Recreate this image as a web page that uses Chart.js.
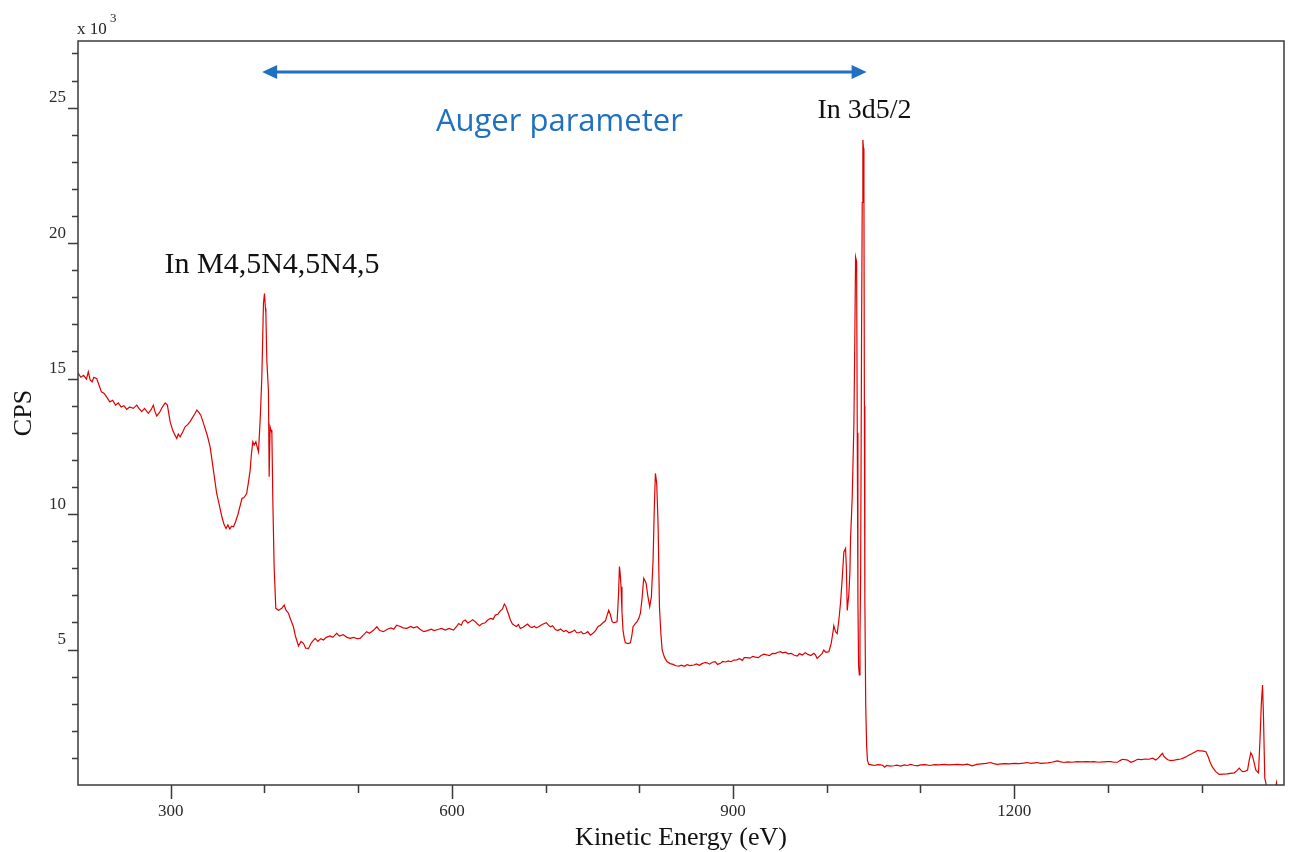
<!DOCTYPE html>
<html>
<head>
<meta charset="utf-8">
<script src="https://cdn.jsdelivr.net/npm/chart.js@4.4.1/dist/chart.umd.min.js"></script>
<style>
html,body{margin:0;padding:0;background:#fff;}
#wrap{width:1290px;height:852px;position:relative;}
</style>
</head>
<body>
<div id="wrap"><canvas id="c" width="1290" height="852"></canvas></div>
<script>
// Kinetic energy (eV)
const energy = [
201,204,207,210,212,214,216,218,221,223,226,229,232,235,238,241,244,247,250,253,256,260,263.7,266,269,272,276,279,281.4,283,285,288,291,294,296.4,299.3,302,304,306.4,308,310,313,315.3,318,320.6,323,326,327.8,330,332,334,336.6,339,342,345.5,349,352,354.5,357,359,361,363,365,367,369,372,374,376,378,381,383,384.7,386,387.6,389,390.8,392,393.6,395.4,397.2,398.9,400,401,401.5,402.5,404.2,405,406,407,407.9,408.9,410.3,412.1,415,418.5,421,423,425.6,428,430.9,433,436.3,439,441.6,444,447,450,454,457,460,463,466,470,473,477,480,484,488,491.5,495,499,502,506,509,512,516,520,523,527,531,535,538,541,545,548,552,556,559,563,566,570,574,578,581,585,589,593,597,
601.8,605,607.2,610,612,614.3,617,619.6,622,625,627,629.6,632,635.7,638,641,644,646.3,649,651.7,654,656,657.5,658.8,660.5,662.4,664.5,666.6,669,671,673,676,678,680.8,683,685.5,688,690,692.6,695,698,700.8,703,705.1,707.5,710.4,713,716,719.3,722,725,728.2,731,733,735.3,738,740,742.5,745,747.8,750.5,753.1,756,758.5,761,763.8,765.5,767.3,769,771,772.6,774.5,776.3,777.8,778.8,779.6,780.5,781.5,782.6,784,785.1,788,790.5,792,793.3,795.5,797.6,799.5,801.2,803,804.7,806,807.3,809,811.1,812.9,814.7,816,817.2,818.6,820.1,821.5,823,824.4,827,829.7,833,836,839,842.1,845,848,851,854,858.1,861,864,867,870,872.4,875,878,881,883.5,886.6,889,892,895,898,900.8,904,907,910,912,915,918,921,924,927,930,932.9,936,939,942,945,948,950.7,953,956,959,962,965,968.5,971,974,977,980,983,986.3,988,989.8,992,995,996.9,999,1002.3,1004.8,1006.5,1007.6,1009.4,1011.2,1013,1014.8,1016.5,1018.3,1020.1,1021,1021.9,1023.6,1024.8,1025.4,1027.2,1029,1030,1030.8,1031.9,1032.6,1033.3,1034,1034.8,1035.5,1036.2,1037.2,1037.9,1038.6,1039.2,1039.7,1040.2,1040.7,1041.6,1042.6,1043.5,1045,1048,1051,1054,1057.5,1060,1061.8,1064,1068,1071.7,1075,1079,1083,1086,1089.5,1093,1096.7,1100,1105,1110,1115,1120,1125,1130,1135,1140,1145,1150,1155.4,1160,1165,1170,1175,1178,1182,1186,1190,1195,1200,1205,1210,1214,1218,1222,1224.7,1228,1232,1236,1240,1243,1246,1249,1253,1257,1262,1267,1272,1277,1281,1285,1290,1295,1300,1303,1307,1310.3,1313,1315.6,1318,1321,1324.5,1328,1331.7,1336,1340,1344,1347.7,1351.2,1354,1356,1358.3,1360,1361.9,1364,1367.2,1371,1374,1377.9,1381,1384,1386.8,1390,1393,1395.7,1399,1402,1404.6,1407.1,1409,1411.8,1415,1418.8,1423,1427,1431,1434.9,1437.5,1440.2,1442,1443.8,1446,1449.1,1450.8,1452.6,1454,1455.5,1458,1460.8,1462.5,1463.8,1465.1,1466.1,1467.5,1468.6,1471,1478,1480,1481
];
// Intensity (CPS, x 10^3)
const cps = [
15.21,15.05,15.12,14.98,15.25,14.95,14.88,15.05,15.00,14.80,14.51,14.45,14.30,14.14,14.20,14.02,14.10,13.95,14.00,13.86,13.95,13.90,14.02,13.90,13.78,13.90,13.72,13.85,14.02,13.80,13.62,13.75,13.95,14.10,14.02,13.41,13.10,12.95,12.79,12.95,12.85,13.05,13.22,13.30,13.41,13.55,13.72,13.84,13.75,13.65,13.45,13.16,12.90,12.48,11.62,10.76,10.30,9.90,9.60,9.47,9.60,9.45,9.55,9.53,9.70,10.03,10.30,10.58,10.60,10.76,11.20,11.62,12.20,12.67,12.55,12.67,12.50,12.30,13.47,15.07,17.77,18.14,17.60,17.40,15.68,14.58,11.38,13.22,13.10,12.98,10.52,8.06,6.52,6.45,6.52,6.64,6.45,6.34,6.10,5.84,5.50,5.13,5.30,5.23,5.05,5.04,5.25,5.41,5.30,5.40,5.35,5.45,5.50,5.45,5.60,5.50,5.55,5.45,5.41,5.45,5.40,5.41,5.55,5.66,5.60,5.70,5.84,5.70,5.66,5.75,5.80,5.75,5.90,5.85,5.80,5.78,5.85,5.80,5.84,5.75,5.66,5.70,5.75,5.70,5.74,5.78,5.72,5.78,
5.72,5.85,5.96,5.90,6.05,6.09,5.98,6.03,6.10,6.03,5.95,5.88,5.95,5.99,6.08,6.15,6.12,6.27,6.30,6.43,6.50,6.68,6.60,6.46,6.30,6.09,5.95,5.90,5.85,5.92,5.78,5.82,5.88,5.94,5.85,5.81,5.86,5.80,5.84,5.90,5.95,5.99,5.90,5.84,5.88,5.74,5.70,5.76,5.66,5.70,5.62,5.66,5.72,5.62,5.62,5.66,5.58,5.60,5.66,5.53,5.60,5.69,5.85,5.90,5.98,6.06,6.25,6.45,6.30,6.03,5.99,6.00,6.03,7.00,8.06,7.80,7.32,6.40,5.72,5.40,5.25,5.22,5.25,5.50,5.84,5.95,6.03,6.15,6.34,6.90,7.63,7.55,7.44,7.00,6.58,6.95,8.30,10.20,11.50,11.13,9.53,6.58,5.60,4.98,4.70,4.55,4.48,4.45,4.40,4.39,4.42,4.38,4.44,4.41,4.43,4.47,4.42,4.48,4.52,4.51,4.46,4.53,4.55,4.45,4.49,4.56,4.54,4.58,4.55,4.61,4.62,4.66,4.60,4.70,4.70,4.68,4.75,4.72,4.70,4.78,4.83,4.80,4.78,4.86,4.85,4.90,4.92,4.88,4.90,4.84,4.86,4.80,4.76,4.85,4.80,4.88,4.82,4.78,4.86,4.80,4.67,4.75,4.85,4.98,4.90,4.92,5.23,5.60,5.88,5.66,5.59,6.10,6.75,7.60,8.60,8.73,8.00,6.44,7.03,7.90,9.07,10.59,13.30,16.50,19.49,19.32,13.00,6.86,4.40,4.06,5.50,7.71,16.69,21.50,23.81,23.50,22.20,14.00,6.86,3.00,1.44,0.90,0.76,0.74,0.72,0.75,0.74,0.72,0.66,0.72,0.70,0.71,0.73,0.70,0.74,0.72,0.76,0.73,0.71,0.74,0.75,0.72,0.75,0.74,0.76,0.74,0.75,0.76,0.74,0.77,0.71,0.76,0.78,0.80,0.83,0.79,0.76,0.78,0.79,0.78,0.80,0.79,0.81,0.83,0.80,0.82,0.83,0.80,0.81,0.82,0.84,0.86,0.89,0.86,0.83,0.85,0.84,0.86,0.85,0.86,0.85,0.86,0.84,0.85,0.86,0.86,0.84,0.84,0.90,0.95,0.94,0.92,0.84,0.88,0.95,0.94,0.96,0.95,0.99,0.92,1.00,1.08,1.17,1.05,0.99,0.93,0.90,0.92,0.94,0.96,1.00,1.05,1.11,1.16,1.22,1.27,1.26,1.25,1.23,1.04,0.85,0.65,0.50,0.39,0.40,0.41,0.43,0.45,0.52,0.62,0.55,0.49,0.50,0.55,0.90,1.19,1.10,0.92,0.55,0.45,1.78,3.00,3.69,2.52,0.25,0.08,-0.30,-0.30,0.08,-0.30
];
// Axis ticks
const xMajorTicks = [300, 600, 900, 1200];
const xMinorTicks = [300, 400, 500, 600, 700, 800, 900, 1000, 1100, 1200, 1300, 1400];
const yMajorTicks = [5, 10, 15, 20, 25];
const yMinorTicks = [1,2,3,4,5,6,7,8,9,10,11,12,13,14,15,16,17,18,19,20,21,22,23,24,25,26,27];

const points = energy.map((e, i) => ({x: e, y: cps[i]}));
const SERIF = '"Liberation Serif", "DejaVu Serif", serif';
const BLUE = '#1f70c1';

const decor = {
  id: 'decor',
  afterDraw(chart) {
    const {ctx, chartArea: a, scales: {x, y}} = chart;
    ctx.save();
    ctx.strokeStyle = '#3a3a3a';
    ctx.lineWidth = 1.5;
    ctx.strokeRect(a.left, a.top, a.right - a.left, a.bottom - a.top);
    ctx.beginPath();
    xMinorTicks.forEach(v => {
      const px = Math.round(x.getPixelForValue(v)) + 0.5;
      const len = xMajorTicks.includes(v) ? 14 : 8;
      ctx.moveTo(px, a.bottom); ctx.lineTo(px, a.bottom + len);
    });
    yMinorTicks.forEach(v => {
      const py = Math.round(y.getPixelForValue(v)) + 0.5;
      const len = yMajorTicks.includes(v) ? 10 : 6;
      ctx.moveTo(a.left, py); ctx.lineTo(a.left - len, py);
    });
    ctx.stroke();

    // x 10^3 multiplier
    ctx.fillStyle = '#222';
    ctx.textBaseline = 'alphabetic';
    ctx.textAlign = 'left';
    ctx.font = '17px ' + SERIF;
    ctx.fillText('x 10', a.left - 1, 34);
    ctx.font = '13px ' + SERIF;
    ctx.fillText('3', a.left + 32, 22);

    // peak labels
    ctx.textAlign = 'center';
    ctx.textBaseline = 'middle';
    ctx.fillStyle = '#111';
    ctx.font = '30px ' + SERIF;
    ctx.fillText('In M4,5N4,5N4,5', x.getPixelForValue(408), y.getPixelForValue(19.19));
    ctx.font = '28px ' + SERIF;
    ctx.fillText('In 3d5/2', x.getPixelForValue(1040.4), y.getPixelForValue(24.9));

    // Auger parameter arrow
    const x1 = x.getPixelForValue(397.5), x2 = x.getPixelForValue(1042.6);
    const ay = Math.round(y.getPixelForValue(26.3));
    ctx.strokeStyle = BLUE; ctx.fillStyle = BLUE;
    ctx.lineWidth = 3;
    ctx.beginPath(); ctx.moveTo(x1 + 10, ay); ctx.lineTo(x2 - 10, ay); ctx.stroke();
    ctx.beginPath(); ctx.moveTo(x1, ay); ctx.lineTo(x1 + 15, ay - 7); ctx.lineTo(x1 + 15, ay + 7); ctx.closePath(); ctx.fill();
    ctx.beginPath(); ctx.moveTo(x2, ay); ctx.lineTo(x2 - 15, ay - 7); ctx.lineTo(x2 - 15, ay + 7); ctx.closePath(); ctx.fill();
    ctx.font = '31px "Open Sans", "Liberation Sans", sans-serif';
    ctx.fillText('Auger parameter', x.getPixelForValue(714.7), y.getPixelForValue(24.46));
    ctx.restore();
  }
};

new Chart(document.getElementById('c'), {
  type: 'line',
  data: {
    datasets: [{
      data: points,
      borderColor: '#e00000',
      borderWidth: 1.2,
      pointRadius: 0,
      tension: 0,
      fill: false
    }]
  },
  options: {
    responsive: false,
    animation: false,
    devicePixelRatio: 1,
    layout: {padding: {left: 0, top: 41, right: 6, bottom: 0}},
    plugins: {legend: {display: false}, tooltip: {enabled: false}},
    scales: {
      x: {
        type: 'linear',
        min: 201, max: 1488,
        afterBuildTicks: s => { s.ticks = xMajorTicks.map(v => ({value: v})); },
        afterFit: s => { s.height = 67; },
        grid: {display: false, drawTicks: false},
        border: {display: false},
        ticks: {
          padding: 16, color: '#2a2a2a', maxRotation: 0, autoSkip: false,
          font: {family: SERIF, size: 17},
          callback: v => String(v)
        },
        title: {
          display: true, text: 'Kinetic Energy (eV)', color: '#111',
          font: {family: SERIF, size: 26, lineHeight: 1.0},
          padding: {top: 0, bottom: 1}
        }
      },
      y: {
        type: 'linear',
        min: 0, max: 27.46,
        afterBuildTicks: s => { s.ticks = yMajorTicks.map(v => ({value: v})); },
        afterFit: s => { s.width = 78; },
        grid: {display: false, drawTicks: false},
        border: {display: false},
        ticks: {
          padding: 12, labelOffset: -10, color: '#2a2a2a',
          font: {family: SERIF, size: 17},
          callback: v => String(v)
        },
        title: {
          display: true, text: 'CPS', color: '#111',
          font: {family: SERIF, size: 26, lineHeight: 1.2},
          padding: {top: 9, bottom: 0}
        }
      }
    }
  },
  plugins: [decor]
});
</script>
</body>
</html>
